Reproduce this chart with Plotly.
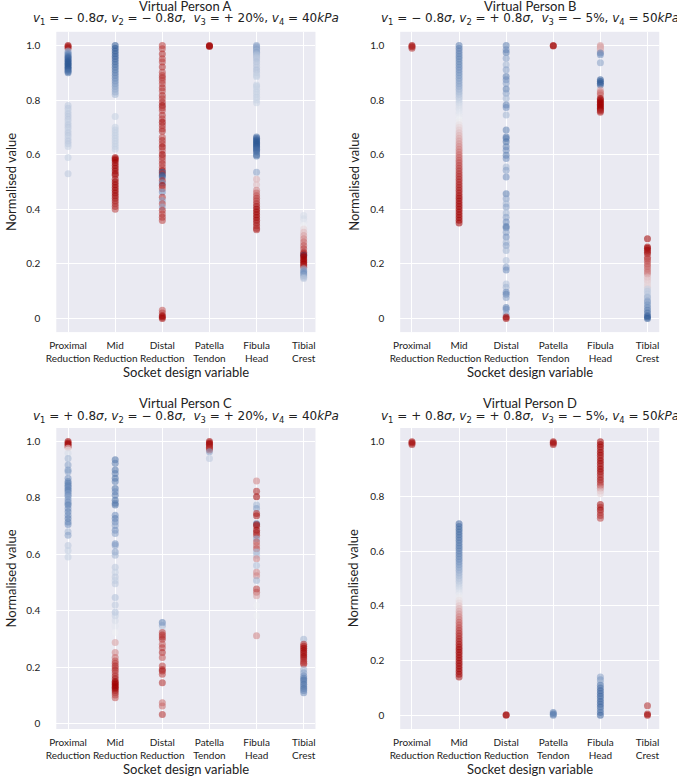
import plotly.graph_objects as go
from plotly.subplots import make_subplots

# categories on the x axis
variables = ['Proximal<br>Reduction', 'Mid<br>Reduction', 'Distal<br>Reduction',
             'Patella<br>Tendon', 'Fibula<br>Head', 'Tibial<br>Crest']

# each column: list of (normalised value, colour value 0=blue .. 1=red)
# ---- Virtual Person A
A_prox = [(1.0, 1), (0.995, 1), (0.99, .95), (0.98, .35), (0.975, .3), (0.97, .25), (0.965, .2),
          (0.96, .15), (0.955, .1), (0.95, .1), (0.945, .08), (0.94, .05), (0.935, .05), (0.93, .05),
          (0.925, .05), (0.92, .05), (0.915, .05), (0.91, .08), (0.905, .1), (0.90, .15),
          (0.78, .4), (0.77, .4), (0.76, .42), (0.75, .4), (0.74, .4), (0.73, .4), (0.72, .42),
          (0.71, .4), (0.70, .4), (0.69, .42), (0.68, .4), (0.67, .4), (0.66, .42), (0.65, .4),
          (0.64, .4), (0.63, .42), (0.59, .42), (0.53, .4)]
A_mid = [(1.0, .05), (0.99, .05), (0.98, .06), (0.97, .07), (0.96, .08), (0.95, .1), (0.94, .12),
         (0.93, .13), (0.92, .15), (0.91, .17), (0.90, .19), (0.89, .21), (0.88, .23), (0.87, .25),
         (0.86, .27), (0.85, .29), (0.84, .31), (0.83, .33), (0.82, .35),
         (0.74, .42), (0.70, .42), (0.69, .42), (0.68, .42), (0.67, .42), (0.66, .42), (0.65, .42),
         (0.64, .42), (0.63, .42), (0.62, .42),
         (0.59, .95), (0.585, 1), (0.58, 1), (0.57, 1), (0.56, 1), (0.55, 1), (0.54, 1), (0.53, 1),
         (0.525, .95), (0.51, .95), (0.50, 1), (0.49, 1), (0.48, 1), (0.47, 1), (0.46, 1), (0.45, 1),
         (0.44, .95), (0.43, .95), (0.42, .9), (0.41, .9), (0.40, .85)]
A_dist = [(1.0, .85), (0.988, .85), (0.969, .9), (0.951, .85), (0.939, .85), (0.921, .9), (0.902, .85),
          (0.89, .85), (0.882, .9), (0.872, .85), (0.86, .85), (0.845, .9), (0.833, .85), (0.817, .9),
          (0.805, .85), (0.792, .9), (0.78, 1), (0.772, .9), (0.762, .85), (0.744, .9), (0.731, .85),
          (0.719, 1), (0.707, .9), (0.695, .85), (0.686, .9), (0.664, .85), (0.652, .9), (0.64, .85),
          (0.628, 1), (0.615, .85), (0.601, 1), (0.591, .9), (0.579, .85), (0.567, .9), (0.554, .85),
          (0.542, 1), (0.536, .05), (0.53, .9), (0.524, .05), (0.518, .1), (0.505, .9), (0.496, .2),
          (0.487, 1), (0.475, .85), (0.463, .25), (0.444, .9), (0.432, .3), (0.42, .85), (0.408, .3),
          (0.396, .9), (0.383, .85), (0.371, .9), (0.359, .85),
          (0.03, .8), (0.02, .85), (0.01, 1), (0.005, 1), (0.0, 1)]
A_pat = [(1.0, 1), (0.998, 1), (0.996, 1)]
A_fib = [(1.0, .3), (0.995, .3), (0.99, .32), (0.985, .3), (0.98, .35), (0.975, .3), (0.97, .35),
         (0.965, .38), (0.96, .38), (0.955, .4), (0.95, .4), (0.94, .38), (0.93, .4), (0.92, .4),
         (0.91, .38), (0.90, .4), (0.89, .42), (0.885, .42), (0.855, .42), (0.85, .42), (0.84, .43),
         (0.83, .42), (0.82, .43), (0.81, .42), (0.80, .43), (0.79, .43),
         (0.665, .15), (0.66, .1), (0.655, .08), (0.65, .05), (0.645, .05), (0.64, .05), (0.635, .05),
         (0.63, .05), (0.625, .08), (0.62, .1), (0.615, .12), (0.61, .12), (0.60, .15), (0.595, .15),
         (0.536, .3), (0.51, .62), (0.49, .6), (0.47, .7), (0.46, .75), (0.45, .8), (0.44, .85),
         (0.43, .85), (0.42, .9), (0.41, .95), (0.40, 1), (0.39, 1), (0.38, 1), (0.37, 1), (0.36, 1),
         (0.35, .95), (0.34, .95), (0.33, .9), (0.325, .9)]
A_tib = [(0.377, .45), (0.365, .45), (0.353, .48), (0.34, .5), (0.328, .55), (0.316, .6), (0.304, .65),
         (0.292, .7), (0.28, .75), (0.267, .8), (0.255, .85), (0.243, .9), (0.237, .95), (0.232, .05),
         (0.231, 1), (0.225, 1), (0.218, 1), (0.212, 1), (0.206, 1), (0.2, 1), (0.194, .95), (0.188, .9),
         (0.182, .35), (0.176, .3), (0.17, .25), (0.164, .25), (0.157, .3), (0.151, .35), (0.146, .4)]

# ---- Virtual Person B
B_prox = [(1.0, 1), (0.995, 1), (0.99, .9)]
B_mid = [(1.00, .20), (0.99, .20), (0.98, .21), (0.97, .21), (0.96, .22), (0.95, .22), (0.94, .23),
         (0.93, .23), (0.92, .24), (0.91, .25), (0.90, .26), (0.89, .27), (0.88, .28), (0.87, .29),
         (0.86, .30), (0.85, .31), (0.84, .33), (0.83, .35), (0.82, .37), (0.81, .39), (0.80, .41),
         (0.79, .43), (0.78, .45), (0.77, .46), (0.76, .47), (0.75, .48), (0.74, .49), (0.73, .50),
         (0.72, .51), (0.71, .53), (0.70, .55), (0.69, .57), (0.68, .59), (0.67, .61), (0.66, .63),
         (0.65, .65), (0.64, .67), (0.63, .69), (0.62, .71), (0.61, .73), (0.60, .75), (0.59, .77),
         (0.58, .79), (0.57, .81), (0.56, .83), (0.55, .85), (0.54, .87), (0.53, .89), (0.52, .90),
         (0.51, .91), (0.50, .92), (0.49, .93), (0.48, .94), (0.47, .95), (0.46, .96), (0.45, .97),
         (0.44, .98), (0.43, .99), (0.42, 1), (0.41, 1), (0.40, 1), (0.39, 1), (0.38, 1), (0.37, 1),
         (0.36, 1), (0.35, 1)]
B_dist = [(1.0, .2), (0.984, .25), (0.974, .2), (0.953, .3), (0.929, .35), (0.911, .3), (0.886, .2),
          (0.874, .25), (0.862, .3), (0.841, .2), (0.825, .3), (0.806, .35), (0.782, .2), (0.773, .25),
          (0.745, .35), (0.69, .2), (0.665, .15), (0.659, .2), (0.647, .15), (0.629, .2), (0.616, .25),
          (0.598, .2), (0.586, .25), (0.555, .35), (0.543, .3), (0.518, .25), (0.457, .2), (0.439, .3),
          (0.42, .35), (0.408, .3), (0.386, .35), (0.371, .3), (0.353, .25), (0.337, .2), (0.332, .2),
          (0.316, .3), (0.298, .25), (0.279, .35), (0.267, .3), (0.249, .35), (0.212, .38), (0.188, .3),
          (0.178, .25), (0.126, .38), (0.114, .35), (0.096, .25), (0.089, .2), (0.077, .3), (0.04, .2),
          (0.034, .25), (0.016, .3), (0.005, 1), (0.0, 1)]
B_pat = [(1.0, 1), (0.998, 1)]
B_fib = [(1.0, .65), (0.995, .65), (0.99, .62), (0.985, .62), (0.978, .6), (0.972, .2), (0.966, .25),
         (0.937, .3), (0.874, .05), (0.868, .05), (0.862, .05), (0.855, .08), (0.837, .65), (0.83, .7),
         (0.825, .72), (0.819, .75), (0.806, 1), (0.80, 1), (0.795, 1), (0.79, 1), (0.785, 1), (0.78, 1),
         (0.775, 1), (0.77, 1), (0.765, 1), (0.76, .95), (0.755, .9)]
B_tib = [(0.292, 1), (0.262, 1), (0.257, 1), (0.25, 1), (0.243, .95), (0.237, .95), (0.224, .85),
         (0.218, .85), (0.21, .8), (0.2, .8), (0.19, .78), (0.18, .75), (0.17, .75), (0.163, .7),
         (0.151, .6), (0.14, .58), (0.13, .56), (0.12, .55), (0.114, .55), (0.108, .42), (0.10, .4),
         (0.09, .4), (0.08, .38), (0.077, .36), (0.065, .32), (0.06, .3), (0.05, .27), (0.04, .24),
         (0.03, .2), (0.02, .15), (0.01, .1), (0.005, .08), (0.0, .05)]

# ---- Virtual Person C
C_prox = [(1.0, 1), (0.995, 1), (0.99, 1), (0.985, .95), (0.98, .9), (0.976, .55), (0.97, .5),
          (0.958, .45), (0.94, .35), (0.917, .3), (0.899, .28), (0.893, .3), (0.87, .25), (0.858, .22),
          (0.852, .2), (0.845, .2), (0.84, .22), (0.834, .25), (0.828, .2), (0.822, .22), (0.816, .28),
          (0.81, .25), (0.804, .3), (0.795, .28), (0.786, .25), (0.78, .3), (0.775, .2), (0.763, .25),
          (0.751, .22), (0.739, .25), (0.727, .2), (0.715, .22), (0.706, .25), (0.68, .35), (0.668, .3),
          (0.632, .4), (0.614, .42), (0.591, .42)]
C_mid = [(0.935, .15), (0.923, .2), (0.899, .15), (0.887, .2), (0.87, .15), (0.858, .2), (0.834, .15),
         (0.822, .25), (0.81, .2), (0.792, .15), (0.781, .2), (0.775, .15), (0.739, .25), (0.727, .2),
         (0.715, .25), (0.703, .3), (0.686, .25), (0.674, .3), (0.638, .25), (0.632, .3), (0.609, .3),
         (0.597, .35), (0.555, .4), (0.537, .42), (0.52, .4), (0.508, .42), (0.496, .4), (0.448, .38),
         (0.421, .4), (0.395, .38), (0.383, .42), (0.365, .45), (0.347, .48), (0.324, .5), (0.288, .65),
         (0.253, .7), (0.235, .75), (0.223, .8), (0.215, .85), (0.205, .9), (0.198, .85), (0.19, .9),
         (0.18, .85), (0.17, .9), (0.16, .95), (0.15, 1), (0.146, 1), (0.14, 1), (0.135, 1), (0.13, 1),
         (0.125, 1), (0.118, 1), (0.11, .95), (0.102, .85), (0.093, .8)]
C_dist = [(0.359, .2), (0.348, .3), (0.336, .45), (0.324, .85), (0.315, .9), (0.308, .85), (0.30, .9),
          (0.282, .8), (0.27, .85), (0.253, .9), (0.235, .8), (0.205, .85), (0.193, .9), (0.187, .95),
          (0.176, .85), (0.146, .9), (0.075, .75), (0.063, .75), (0.033, .9)]
C_pat = [(1.0, 1), (0.995, 1), (0.99, 1), (0.985, .95), (0.98, .95), (0.975, .9), (0.97, .85),
         (0.964, .3), (0.94, .4)]
C_fib = [(0.86, .7), (0.824, .9), (0.804, 1), (0.775, .35), (0.763, .3), (0.745, .9), (0.737, .95),
         (0.709, .1), (0.705, 1), (0.70, .9), (0.686, 1), (0.677, .95), (0.668, .9), (0.656, .3),
         (0.644, .8), (0.632, .75), (0.62, .8), (0.609, .35), (0.597, .38), (0.585, .7), (0.561, .38),
         (0.537, .7), (0.525, .7), (0.508, .35), (0.478, .85), (0.466, .8), (0.454, .65), (0.419, .5),
         (0.383, .5), (0.312, .7)]
C_tib = [(0.30, .35), (0.282, .9), (0.275, .95), (0.268, 1), (0.26, 1), (0.252, 1), (0.245, .95),
         (0.238, 1), (0.23, .95), (0.222, .9), (0.215, .9), (0.211, .85), (0.193, .35), (0.181, .3),
         (0.17, .25), (0.162, .2), (0.155, .15), (0.148, .2), (0.14, .15), (0.132, .2), (0.125, .15),
         (0.118, .2), (0.11, .25)]

# ---- Virtual Person D
D_prox = [(1.0, 1), (0.995, 1), (0.99, .95)]
D_mid = [(0.70, .12), (0.69, .12), (0.68, .13), (0.67, .13), (0.66, .14), (0.65, .15), (0.64, .16),
         (0.63, .17), (0.62, .18), (0.61, .19), (0.60, .20), (0.59, .21), (0.58, .22), (0.57, .23),
         (0.56, .25), (0.55, .27), (0.54, .29), (0.53, .31), (0.52, .33), (0.51, .35), (0.50, .37),
         (0.49, .39), (0.48, .41), (0.47, .43), (0.46, .45), (0.45, .47), (0.44, .49), (0.43, .51),
         (0.42, .53), (0.41, .55), (0.40, .58), (0.39, .61), (0.38, .64), (0.37, .67), (0.36, .70),
         (0.35, .73), (0.34, .76), (0.33, .79), (0.32, .82), (0.31, .85), (0.30, .88), (0.29, .90),
         (0.28, .92), (0.27, .94), (0.26, .96), (0.25, .98), (0.24, 1), (0.23, 1), (0.22, 1), (0.21, 1),
         (0.20, 1), (0.19, 1), (0.18, 1), (0.17, 1), (0.16, 1), (0.15, 1), (0.14, .95)]
D_dist = [(0.0, 1), (0.002, 1)]
D_pat = [(1.0, 1), (0.995, 1), (0.99, .95), (0.01, .2), (0.005, .15), (0.0, .2)]
D_fib = [(1.0, 1), (0.99, 1), (0.98, 1), (0.97, .95), (0.96, 1), (0.95, 1), (0.94, .95), (0.93, 1),
         (0.92, 1), (0.91, .95), (0.90, 1), (0.89, 1), (0.88, .95), (0.87, .9), (0.86, .95), (0.85, .9),
         (0.84, .85), (0.83, .7), (0.82, .6), (0.81, .55), (0.77, .95), (0.76, .9), (0.75, 1), (0.74, .85),
         (0.73, .9), (0.72, .85),
         (0.14, .3), (0.13, .28), (0.12, .35), (0.11, .2), (0.10, .15), (0.09, .1), (0.08, .12), (0.07, .1),
         (0.06, .15), (0.05, .1), (0.04, .12), (0.03, .1), (0.02, .2), (0.01, .15), (0.0, .1)]
D_tib = [(0.035, .9), (0.005, .95), (0.0, 1)]

persons = [
    ('Virtual Person A', ('−', '−', '+', '20%', '40'), [A_prox, A_mid, A_dist, A_pat, A_fib, A_tib], [-0.05, 1.05]),
    ('Virtual Person B', ('−', '+', '−', '5%', '50'), [B_prox, B_mid, B_dist, B_pat, B_fib, B_tib], [-0.05, 1.05]),
    ('Virtual Person C', ('+', '−', '+', '20%', '40'), [C_prox, C_mid, C_dist, C_pat, C_fib, C_tib], [-0.018, 1.048]),
    ('Virtual Person D', ('+', '+', '−', '5%', '50'), [D_prox, D_mid, D_dist, D_pat, D_fib, D_tib], [-0.05, 1.05]),
]

cscale = [[0, '#1c4a8a'], [0.25, '#6d8dbb'], [0.5, '#eceef3'], [0.75, '#c96767'], [1, '#a00000']]

fig = make_subplots(rows=2, cols=2)

xdom = [[0.0694, 0.458], [0.585, 0.9734]]
ydom = [[0.572, 0.959], [0.0606, 0.4485]]
title_y = [(0.9923, 0.9752), (0.4807, 0.4630)]
xlab_y = [0.521, 0.0086]
ylab_x = [0.0015, 0.5155]

for i, (name, signs, cols, yr) in enumerate(persons):
    r, c = i // 2, i % 2
    for j, col in enumerate(cols):
        ys = [p[0] for p in col]
        cs = [p[1] for p in col]
        fig.add_trace(go.Scatter(
            x=[j] * len(ys), y=ys, mode='markers', showlegend=False,
            marker=dict(size=7, color=cs, colorscale=cscale, cmin=0, cmax=1, opacity=0.55,
                        line=dict(width=0))),
            row=r + 1, col=c + 1)
    fig.update_xaxes(domain=xdom[c], range=[-0.25, 5.25], tickvals=list(range(6)), ticktext=variables,
                     row=r + 1, col=c + 1)
    fig.update_yaxes(domain=ydom[r], range=yr, tickvals=[0, 0.2, 0.4, 0.6, 0.8, 1.0],
                     ticktext=['0', '0.2', '0.4', '0.6', '0.8', '1.0'], row=r + 1, col=c + 1)

    cx = (xdom[c][0] + xdom[c][1]) / 2
    s1, s2, s3, v3, v4 = signs
    mathline = ('<i>v</i><sub>1</sub> = %s 0.8<i>σ</i>, <i>v</i><sub>2</sub> = %s 0.8<i>σ</i>,  '
                '<i>v</i><sub>3</sub> = %s %s, <i>v</i><sub>4</sub> = %s<i>kPa</i>') % (s1, s2, s3, v3, v4)
    fig.add_annotation(text=name, x=cx, y=title_y[r][0], xref='paper', yref='paper', showarrow=False,
                       xanchor='center', yanchor='middle', font=dict(family='Lato', size=13, color='#222'))
    fig.add_annotation(text=mathline, x=cx, y=title_y[r][1], xref='paper', yref='paper', showarrow=False,
                       xanchor='center', yanchor='middle', font=dict(family='DejaVu Sans', size=12, color='#222'))
    fig.add_annotation(text='Socket design variable', x=cx, y=xlab_y[r], xref='paper', yref='paper',
                       showarrow=False, xanchor='center', yanchor='middle',
                       font=dict(family='Lato', size=13, color='#222'))
    fig.add_annotation(text='Normalised value', x=ylab_x[c], y=(ydom[r][0] + ydom[r][1]) / 2,
                       xref='paper', yref='paper', showarrow=False, textangle=-90,
                       xanchor='center', yanchor='middle', font=dict(family='Lato', size=13, color='#222'))

fig.update_xaxes(showgrid=True, gridcolor='white', gridwidth=1.3, zeroline=False, showline=False,
                 ticks='', ticklabelstandoff=6, tickfont=dict(family='Lato', size=10, color='#222'))
fig.update_yaxes(showgrid=True, gridcolor='white', gridwidth=1.3, zeroline=False, showline=False,
                 ticks='', ticklabelstandoff=15, tickfont=dict(family='Lato', size=10, color='#222'))

fig.update_layout(width=677, height=776, margin=dict(l=0, r=0, t=0, b=0),
                  paper_bgcolor='white', plot_bgcolor='#eaeaf2',
                  font=dict(family='Lato', color='#222'))

# page body has a default margin; remove it so the figure sits at the window's corner
fig.write_html('out.html', config={'displayModeBar': False},
               post_script="document.body.style.margin='0';")
